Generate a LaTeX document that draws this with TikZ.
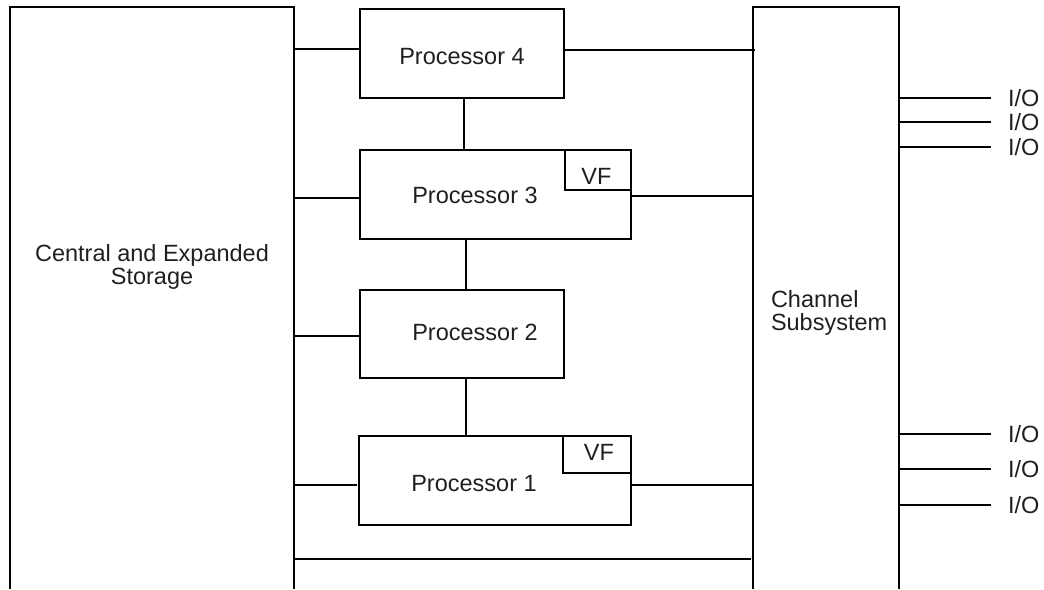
\documentclass[tikz,border=0pt]{standalone}
\usepackage{fontspec}
\setmainfont{Liberation Sans}
\begin{document}
\begin{tikzpicture}[x=1pt,y=-1pt, line width=1.8pt, line join=miter,
  box/.style={draw, inner sep=0pt, outer sep=0pt, anchor=north west},
  frame/.style={inner sep=0pt, outer sep=0pt, anchor=north west},
  lbl/.style={inner sep=0pt, outer sep=0pt, text=black!88, font=\fontsize{23.5}{23}\selectfont}]
\useasboundingbox (0,0) rectangle (1044,589);

% open frames
\node[frame, minimum width=284pt, minimum height=582pt] (stor) at (10,7) {};
\node[frame, minimum width=146pt, minimum height=582pt] (chan) at (753,7) {};
\draw (stor.south west) -- (stor.north west) -- (stor.north east) -- (stor.south east);
\draw (chan.south west) -- (chan.north west) -- (chan.north east) -- (chan.south east);
\node[lbl, align=center] (stortxt) at (152,267.4) {Central and Expanded\\Storage};
\node[lbl, align=left, anchor=west] (chantxt) at (771,313) {Channel\\Subsystem};

% processors
\node[box, minimum width=204pt, minimum height=89pt] (p4) at (360,9) {};
\node[box, minimum width=271pt, minimum height=89pt] (p3) at (360,150) {};
\node[box, minimum width=204pt, minimum height=88pt] (p2) at (360,290) {};
\node[box, minimum width=272pt, minimum height=89pt] (p1) at (359,436) {};
\node[box, anchor=north east, minimum width=66pt, minimum height=40pt] (vf3) at (p3.north east) {};
\node[box, anchor=north east, minimum width=68pt, minimum height=37pt] (vf1) at (p1.north east) {};

\node[lbl, anchor=base] (t4) at (462,64.3) {Processor 4};
\node[lbl, anchor=base] (t3) at (475,203.3) {Processor 3};
\node[lbl, anchor=base] (t2) at (475,340) {Processor 2};
\node[lbl, anchor=base] (t1) at (474,491.7) {Processor 1};
\node[lbl, anchor=base] (tvf3) at (596.5,184) {VF};
\node[lbl, anchor=base] (tvf1) at (599,460.7) {VF};

% connectors
\draw (stor.east |- 0,49) -- (p4.west |- 0,49);
\draw (p4.east |- 0,50) -- ([xshift=2pt]chan.west |- 0,50);
\draw (p4.south -| 464,0) -- (p3.north -| 464,0);
\draw (stor.east |- 0,198) -- (p3.west |- 0,198);
\draw (p3.east |- 0,196) -- (chan.west |- 0,196);
\draw (p3.south -| 466,0) -- (p2.north -| 466,0);
\draw (stor.east |- 0,336) -- (p2.west |- 0,336);
\draw (p2.south -| 466,0) -- (p1.north -| 466,0);
\draw (stor.east |- 0,485) -- ([xshift=-2.5pt]p1.west |- 0,485);
\draw (p1.east |- 0,485) -- (chan.west |- 0,485);
\draw (stor.east |- 0,559) -- ([xshift=-2pt]chan.west |- 0,559);

% I/O
\foreach \y [count=\i] in {98,122,147,434,469,505} {
  \node[lbl, anchor=west] (io\i) at (1008,\y) {I/O};
  \draw (chan.east |- io\i.west) -- ([xshift=-17pt]io\i.west);
}
\end{tikzpicture}
\end{document}
